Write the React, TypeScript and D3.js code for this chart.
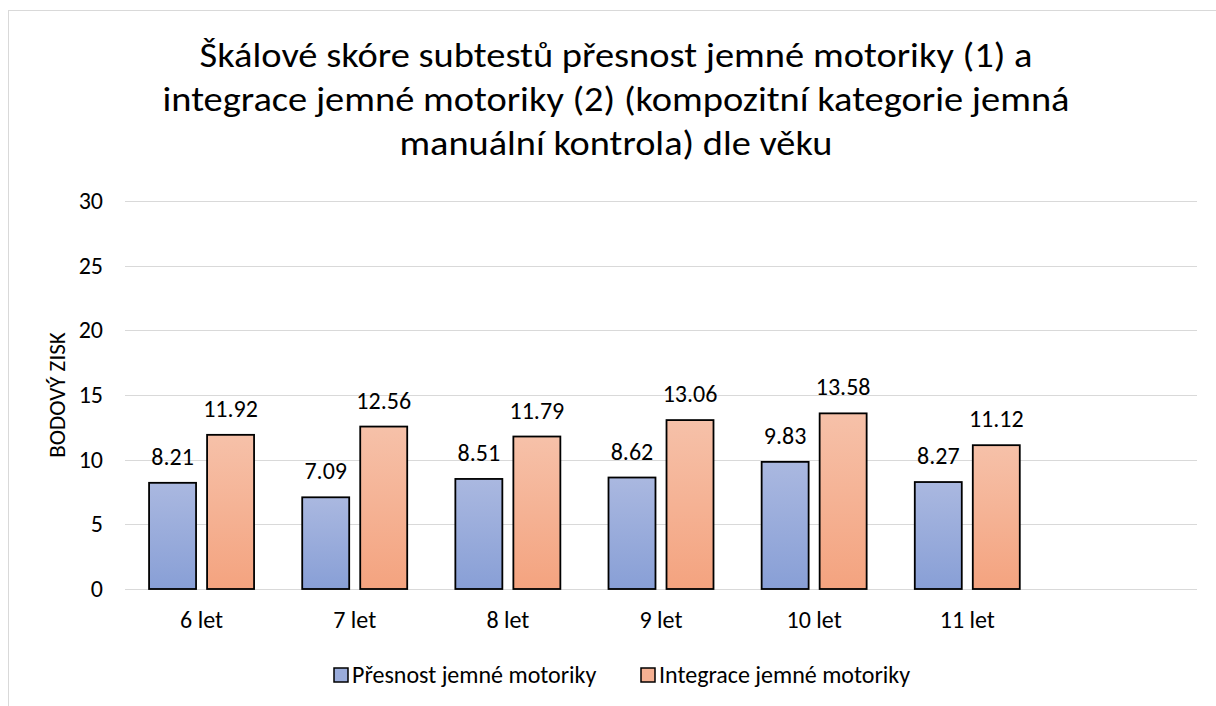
import React, { useRef, useEffect } from "react";
import * as d3 from "d3";

// categories (last one is an empty slot, as in the source chart)
const categories = ["6 let", "7 let", "8 let", "9 let", "10 let", "11 let", ""];
const seriesNames = ["Přesnost jemné motoriky", "Integrace jemné motoriky"];
const presnost = [8.21, 7.09, 8.51, 8.62, 9.83, 8.27];
const integrace = [11.92, 12.56, 11.79, 13.06, 13.58, 11.12];
const yTicks = [0, 5, 10, 15, 20, 25, 30];
const titleLines = [
  "Škálové skóre subtestů přesnost jemné motoriky (1) a",
  "integrace jemné motoriky (2) (kompozitní kategorie jemná",
  "manuální kontrola) dle věku",
];
const titleWidths = [833, 907, 433];
const yTitle = "BODOVÝ ZISK";

const FONT = "Calibri, Carlito, Lato, sans-serif";

const App = () => {
  const ref = useRef<SVGSVGElement | null>(null);

  useEffect(() => {
    const svg = d3.select(ref.current);
    svg.selectAll("*").remove();

    const width = 1216;
    const height = 706;
    const left = 125, right = 1197, top = 201, bottom = 589;

    // gradients
    const defs = svg.append("defs");
    const grads = [
      { id: "gBlue", top: "#AAB8E0", bottom: "#889FD6" },
      { id: "gOrange", top: "#F6C1A9", bottom: "#F4A37F" },
    ];
    grads.forEach((g) => {
      const lg = defs.append("linearGradient").attr("id", g.id)
        .attr("x1", 0).attr("y1", 0).attr("x2", 0).attr("y2", 1);
      lg.append("stop").attr("offset", "0%").attr("stop-color", g.top);
      lg.append("stop").attr("offset", "100%").attr("stop-color", g.bottom);
    });

    // chart border
    svg.append("rect")
      .attr("x", 8.5).attr("y", 10.5)
      .attr("width", width + 20).attr("height", height + 20)
      .attr("fill", "#fff").attr("stroke", "#D9D9D9").attr("stroke-width", 1);

    // title
    svg.append("g").selectAll("text")
      .data(titleLines)
      .enter()
      .append("text")
      .attr("x", 616)
      .attr("y", (d, i) => 67 + i * 44)
      .attr("text-anchor", "middle")
      .attr("textLength", (d, i) => titleWidths[i])
      .attr("lengthAdjust", "spacingAndGlyphs")
      .style("font-family", FONT)
      .style("font-size", "35px")
      .style("fill", "#000")
      .text((d) => d);

    const x = d3.scaleBand().domain(categories).range([left, right]).padding(0);
    const xs = d3.scaleBand().domain(seriesNames).range([0, x.bandwidth()])
      .paddingInner(0.19).paddingOuter(0.415);
    const y = d3.scaleLinear().domain([0, 30]).range([bottom, top]);

    // gridlines
    svg.append("g").selectAll("line")
      .data(yTicks)
      .enter()
      .append("line")
      .attr("x1", left).attr("x2", right)
      .attr("y1", (d) => Math.round(y(d)) + 0.5)
      .attr("y2", (d) => Math.round(y(d)) + 0.5)
      .attr("stroke", "#D9D9D9").attr("stroke-width", 1);

    // y tick labels
    svg.append("g").selectAll("text")
      .data(yTicks)
      .enter()
      .append("text")
      .attr("x", 103)
      .attr("y", (d) => y(d) + 8)
      .attr("text-anchor", "end")
      .style("font-family", FONT)
      .style("font-size", "24px")
      .style("fill", "#000")
      .text((d) => d);

    // y axis title
    svg.append("text")
      .attr("transform", `translate(65,${(top + bottom) / 2}) rotate(-90)`)
      .attr("text-anchor", "middle")
      .style("font-family", FONT)
      .style("font-size", "23px")
      .style("fill", "#000")
      .text(yTitle);

    // x category labels
    svg.append("g").selectAll("text")
      .data(categories.filter((c) => c !== ""))
      .enter()
      .append("text")
      .attr("x", (d) => x(d)! + x.bandwidth() / 2)
      .attr("y", 628)
      .attr("text-anchor", "middle")
      .style("font-family", FONT)
      .style("font-size", "24px")
      .style("fill", "#000")
      .text((d) => d);

    // bars
    const rows = [presnost, integrace];
    const fills = ["url(#gBlue)", "url(#gOrange)"];
    rows.forEach((vals, si) => {
      const g = svg.append("g");
      const data = vals.map((v, i) => ({ cat: categories[i], v }));
      g.selectAll("rect")
        .data(data)
        .enter()
        .append("rect")
        .attr("x", (d) => x(d.cat)! + xs(seriesNames[si])!)
        .attr("y", (d) => y(d.v))
        .attr("width", xs.bandwidth())
        .attr("height", (d) => y(0) - y(d.v))
        .attr("fill", fills[si])
        .attr("stroke", "#000")
        .attr("stroke-width", 1.8);
      g.selectAll("text")
        .data(data)
        .enter()
        .append("text")
        .attr("x", (d) => x(d.cat)! + xs(seriesNames[si])! + xs.bandwidth() / 2)
        .attr("y", (d) => y(d.v) - 18)
        .attr("text-anchor", "middle")
        .style("font-family", FONT)
        .style("font-size", "24px")
        .style("fill", "#000")
        .text((d) => d.v.toFixed(2));
    });

    // legend
    const legendX = [334, 641];
    const legendFills = ["#9AACDB", "#F5B092"];
    const lg = svg.append("g");
    seriesNames.forEach((name, i) => {
      lg.append("rect")
        .attr("x", legendX[i]).attr("y", 668)
        .attr("width", 14).attr("height", 14)
        .attr("fill", legendFills[i])
        .attr("stroke", "#000").attr("stroke-width", 1.5);
      lg.append("text")
        .attr("x", legendX[i] + 18).attr("y", 683)
        .style("font-family", FONT)
        .style("font-size", "24px")
        .style("fill", "#000")
        .text(name);
    });
  }, []);

  return (
    <div style={{ position: "fixed", left: 0, top: 0, width: 1216, height: 706, background: "#fff" }}>
      <svg ref={ref} width={1216} height={706} style={{ display: "block" }} />
    </div>
  );
};

export default App;
